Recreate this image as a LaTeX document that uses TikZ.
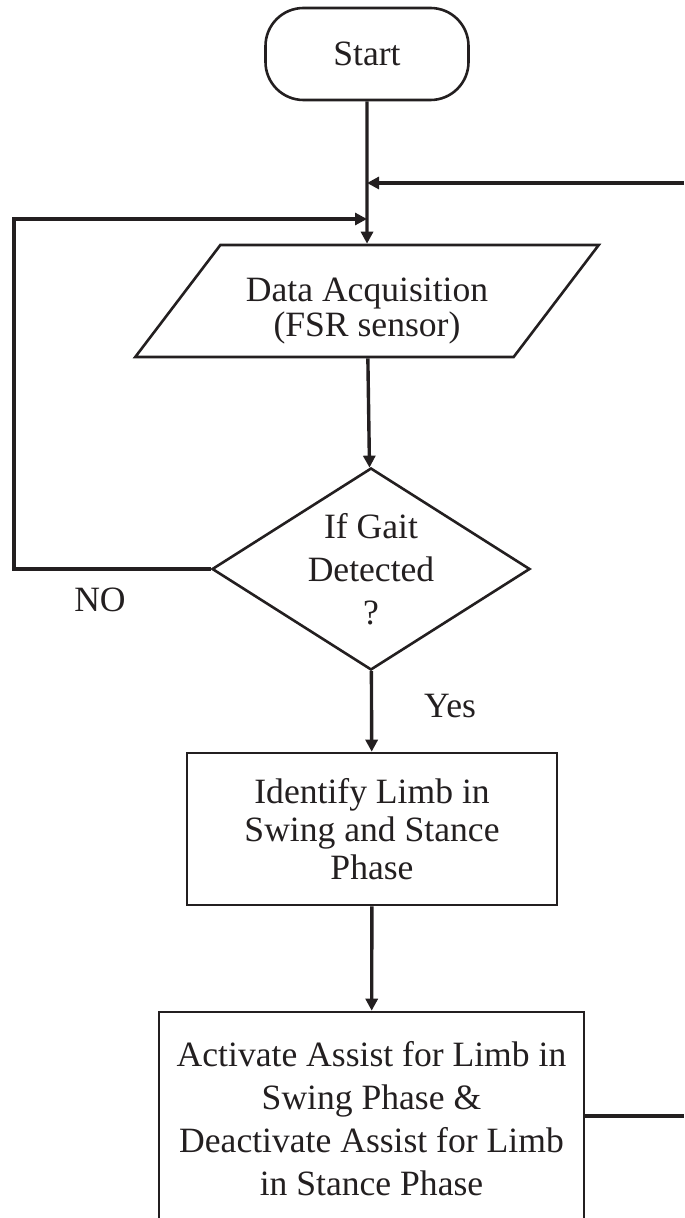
\documentclass[tikz,border=0pt]{standalone}
\usepackage{fontspec}
\setmainfont{Liberation Serif}
\usetikzlibrary{shapes.geometric,arrows.meta}
\definecolor{flowink}{HTML}{231F20}

\begin{document}
\begin{tikzpicture}[x=0.5pt,y=-0.5pt,
    every node/.style={text=flowink,font=\fontsize{17.8}{19}\selectfont},
    shapebox/.style={draw=flowink,line width=1.3pt,align=center,inner sep=0pt},
    flow/.style={draw=flowink,line width=1.7pt,-{Triangle[length=6pt,width=6pt]}},
    plainflow/.style={draw=flowink,line width=1.7pt}]
  \useasboundingbox (0,0) rectangle (684,1218);
  \clip (0,0) rectangle (684,1218);

  \node[shapebox,rounded corners=19pt,minimum width=101.5pt,minimum height=46pt] (start) at (367,54) {Start};
  \node[shapebox,trapezium,trapezium left angle=50.6,trapezium right angle=129.4,trapezium stretches=true,
        minimum width=232pt,minimum height=56pt,font=\fontsize{17.8}{17.5}\selectfont] (acq) at (367,301) {\rule{0pt}{21.5pt}Data Acquisition\\(FSR sensor)};
  \node[shapebox,diamond,aspect=1.57,minimum width=159pt,minimum height=101pt,font=\fontsize{17.8}{21.5}\selectfont] (dec) at (371,569) {If Gait\\Detected\\?};
  \node[shapebox,minimum width=185pt,minimum height=76pt] (ident) at (372,829) {Identify Limb in\\Swing and Stance\\Phase};
  \node[shapebox,minimum width=212.5pt,minimum height=106.5pt,font=\fontsize{17.8}{21.5}\selectfont] (act) at (371.5,1118.5) {Activate Assist for Limb in\\Swing Phase \&\\Deactivate Assist for Limb\\in Stance Phase};

  \node (nolbl) at (100,600) {NO};
  \node (yeslbl) at (450,706) {Yes};

  \coordinate (backin) at (684,183);
  \coordinate (loopcorner) at (14,219);
  \coordinate (backout) at (684,1116);

  \draw[flow] (start) -- (acq);
  \draw[flow] (backin) -- (backin -| start.south);
  \draw[flow] (dec.west) -| (loopcorner) -- (loopcorner -| start.south);
  \draw[flow] (acq) -- (dec);
  \draw[flow] (dec) -- (ident);
  \draw[flow] (ident) -- (act);
  \draw[plainflow] (act.east |- backout) -- (backout);
\end{tikzpicture}
\end{document}
